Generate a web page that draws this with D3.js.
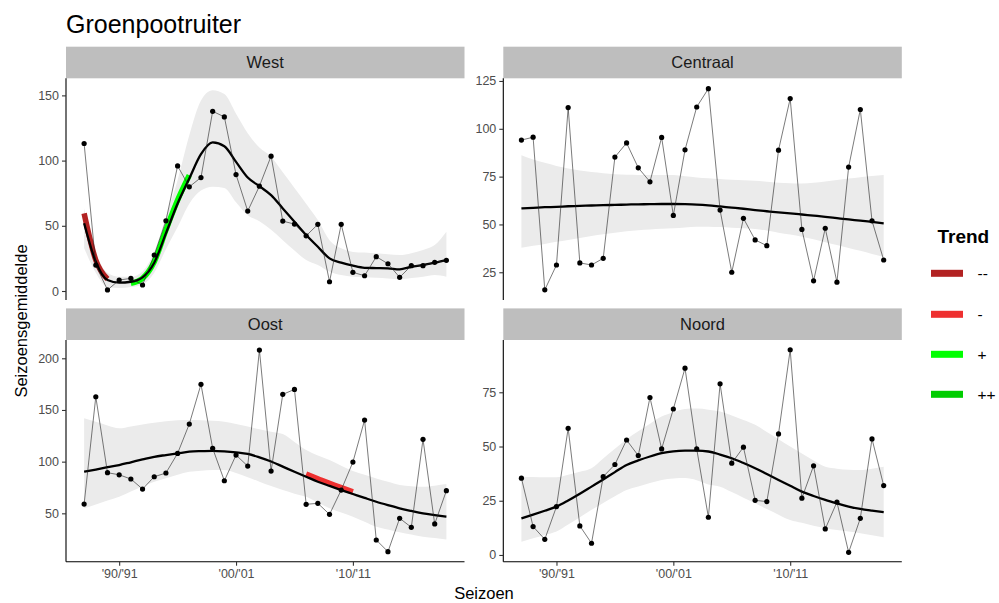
<!DOCTYPE html>
<html><head><meta charset="utf-8">
<script src="https://cdn.jsdelivr.net/npm/d3@7"></script>
<style>body{margin:0;background:#fff}svg{display:block;font-family:"Liberation Sans",Arial,sans-serif}</style>
</head><body><svg id="c" width="999" height="603"></svg>
<script>
const years = [1987,1988,1989,1990,1991,1992,1993,1994,1995,1996,1997,1998,1999,2000,2001,2002,2003,2004,2005,2006,2007,2008,2009,2010,2011,2012,2013,2014,2015,2016,2017,2018];
const xTickYears = [1990,2000,2010];
const xTickLabels = ["'90/'91","'00/'01","'10/'11"];
const regions = ["West","Centraal","Oost","Noord"];

const westValues = [113.1,19.9,0.8,8.4,9.7,4.6,27.6,53.8,95.9,79.9,87,137.8,133.5,89.3,61.3,80.4,103.4,53.6,51.3,42.3,51.1,7.1,51.1,14.3,11.7,26.3,20.9,10.5,19.4,19.4,22,23.5];
const westSmooth = [52,22.4,8.4,6.4,7.1,10.5,21.7,44.2,67.1,86.3,104.9,113.9,111,99,87,80.4,73.5,63.3,53.1,42.9,33.9,25,21.7,19.4,17.8,17.6,17.4,16.6,18.6,19.9,21.7,23.7];
const westUpper = [63.5,29,14,11,11,15,30,57,85,119.4,146,154,151,136,121,110,103,91,79,67,54.4,39,32.7,30,29.5,28.9,28.2,27.6,29,31.4,35.2,45.4];
const westLower = [33,14,3,2.3,3,5,14,32,49,67,77,80,79,68,58,53.5,47,39,31,23.7,19.9,14.8,12.3,11,10.6,10.2,9.6,9,10,11,12.3,11];

const centraalValues = [94.1,95.6,15.8,28.8,111.1,29.9,28.8,32.3,85.2,92.6,79.6,72.3,95.5,54.7,89,111.4,121,57.5,25,53.2,41.9,38.9,88.8,115.8,47.4,20.5,48,19.8,80,110.1,51.9,31.4];
const centraalSmooth = [58.4,58.7,59,59.2,59.5,59.7,59.9,60.1,60.2,60.4,60.5,60.6,60.7,60.7,60.6,60.4,60,59.4,58.8,58.2,57.5,56.9,56.3,55.8,55.2,54.6,54,53.3,52.6,52,51.3,50.6];
const centraalUpper = [86.2,84,82.2,80.6,79.3,78.2,77.4,76.8,76.3,76,75.9,75.8,75.8,75.8,75.2,74.6,74.2,73.8,73.4,73.1,72.8,72.3,71.8,71.5,71.4,71.8,72.5,73.2,74,74.7,75.3,75.8];
const centraalLower = [37.8,38.8,39.8,40.9,41.9,42.9,44,44.9,45.7,46.4,47,47.4,47.8,48,48.4,48.8,48.8,48.6,48.3,48,47.6,46.8,45.7,44.7,43.6,42.2,40.7,39.2,37.7,36.2,34.6,33.1];

const oostValues = [59,162.8,89.3,87.3,83.2,73.5,85.4,89,108,136.4,174.8,112.9,81.5,106.4,95.7,208,90.9,165.1,169.9,58.7,59.7,49,72.5,99.6,140.2,24.2,12.9,45.2,36.5,121.6,39.7,71.9];
const oostSmooth = [90.3,92.4,94.6,96.7,99.4,102.1,104.7,106.4,108,109.6,110.2,110.5,110,109,107.5,104.2,100.2,95.2,90.2,85.4,80.6,76.5,72.5,68.7,64.9,61.2,57.9,54.8,52.3,50,48.3,46.7];
const oostUpper = [141.9,138.5,135,132.2,134,136,137.6,139,140,140.2,140,139.5,138.6,136.5,134,131.3,129,126.7,119,111.2,106,101.5,96,90.9,87.3,83.8,80.5,77.4,76.3,75.7,76.8,78.3];
const oostLower = [54.8,58.5,62.3,66,71,76,80.6,84,87.3,90.2,91.3,91.9,91.9,89,85,80.6,76.5,72.5,69,66,60.5,54.8,50.7,46.7,41.9,37,34.3,31.6,29.5,27.4,26.1,24.8];

const noordValues = [35.4,13.1,7.2,22.3,58.4,13.4,5.4,36.1,41.7,53,45.8,72.6,48.9,67.3,86.1,48.9,17.4,78.9,42.3,49.7,25.2,24.6,55.8,94.6,26.2,41.1,12,24.4,1.2,16.9,53.5,32];
const noordSmooth = [16.9,18.6,20.4,22.3,25.1,28.2,31.5,34.8,38.2,41.5,43.6,45.4,46.9,47.8,48.1,48.1,47.7,46.3,44.6,42.4,40,37.3,34.6,31.9,29.2,27.2,25.4,23.8,22.3,21.2,20.4,19.7];
const noordUpper = [36.1,35.9,35.8,35.8,37,38.4,40,44.5,49,53.4,57,60.5,63.8,65.8,67.3,67.5,67,66.1,64.3,62.2,60,56.7,53.4,50,46.8,43.6,40.7,39.8,39.3,39.2,39.8,40.7];
const noordLower = [6.1,7.7,9.2,10.8,14,17.4,20.8,24,27.1,30,31.6,33.2,34.6,35.3,35.5,34.5,32.5,31.5,29,26.4,23.8,21.2,18.6,16.1,14.8,13.5,12.3,11.5,10.8,10,9.1,8.2];

// trend segments: region, class, years, values
const trendRegion = ["West","West","Oost"];
const trendClass = ["--","+","-"];
const trendYears = [[1987,1988,1989],[1991,1992,1993,1994,1995,1996],[2006,2007,2008,2009,2010]];
const trendValues = [[59.5,23.7,9.2],[5.9,9.7,22.4,46.7,69.7,88.8],[88,83.5,79,74.8,70.8]];

const legendLabels = ["--","-","+","++"];
const legendColors = ["#B22222","#EE3030","#00FF00","#00CD00"];

const yDomains = [[-6.9,163.1],[10.5,126.4],[3.2,217.7],[-3.1,99.1]];
const yTicks = [[0,50,100,150],[25,50,75,100,125],[50,100,150,200],[0,25,50,75]];

const seriesValues = [westValues,centraalValues,oostValues,noordValues];
const seriesSmooth = [westSmooth,centraalSmooth,oostSmooth,noordSmooth];
const seriesUpper = [westUpper,centraalUpper,oostUpper,noordUpper];
const seriesLower = [westLower,centraalLower,oostLower,noordLower];

// layout
const svg = d3.select("#c");
const panelW = 398.5, panelH = 221.7, stripH = 31.6;
const panelX = [66, 503.3, 66, 503.3];
const panelY = [78.3, 78.3, 340, 340];
const colorOf = d3.scaleOrdinal().domain(legendLabels).range(legendColors);

svg.append("text").attr("x",66).attr("y",33).attr("font-size",25).attr("fill","#000").text("Groenpootruiter");

regions.forEach((reg,i)=>{
  const x0 = panelX[i], y0 = panelY[i];
  const ext = d3.extent(years); const pad = (ext[1]-ext[0])*0.05;
  const x = d3.scaleLinear().domain([ext[0]-pad, ext[1]+pad]).range([x0, x0+panelW]);
  const y = d3.scaleLinear().domain(yDomains[i]).range([y0+panelH, y0]);
  const g = svg.append("g");
  // strip
  g.append("rect").attr("x",x0).attr("y",y0-stripH).attr("width",panelW).attr("height",stripH).attr("fill","#BEBEBE");
  g.append("text").attr("x",x0+panelW/2).attr("y",y0-stripH/2).attr("dy","0.36em").attr("text-anchor","middle")
    .attr("font-size",16.5).attr("fill","#1A1A1A").text(reg);
  const vals = seriesValues[i], sm = seriesSmooth[i], up = seriesUpper[i], lo = seriesLower[i];
  const idx = d3.range(years.length);
  // ribbon
  g.append("path").datum(idx).attr("fill","#EBEBEB")
    .attr("d", d3.area().x(k=>x(years[k])).y0(k=>y(lo[k])).y1(k=>y(up[k])).curve(d3.curveMonotoneX));
  // trend segments
  trendRegion.forEach((tr,t)=>{
    if(tr!==reg) return;
    const ty = trendYears[t], tv = trendValues[t];
    g.append("path").datum(d3.range(ty.length)).attr("fill","none").attr("stroke",colorOf(trendClass[t]))
      .attr("stroke-width",5.5)
      .attr("d", d3.line().x(k=>x(ty[k])).y(k=>y(tv[k])).curve(d3.curveMonotoneX));
  });
  // smooth
  g.append("path").datum(idx).attr("fill","none").attr("stroke","#000").attr("stroke-width",2.3)
    .attr("d", d3.line().x(k=>x(years[k])).y(k=>y(sm[k])).curve(d3.curveMonotoneX));
  // data line
  g.append("path").datum(idx).attr("fill","none").attr("stroke","#222").attr("stroke-width",0.6)
    .attr("d", d3.line().x(k=>x(years[k])).y(k=>y(vals[k])));
  g.selectAll("circle.p").data(idx).join("circle").attr("cx",k=>x(years[k])).attr("cy",k=>y(vals[k]))
    .attr("r",2.6).attr("fill","#000");
  // y axis
  const ya = g.append("g").attr("transform",`translate(${x0},0)`)
    .call(d3.axisLeft(y).tickValues(yTicks[i]).tickSize(4).tickPadding(3));
  ya.select(".domain").attr("stroke","#000").attr("stroke-width",1.1).attr("d",`M0,${y0}V${y0+panelH}`);
  ya.selectAll(".tick line").attr("stroke","#333").attr("stroke-width",1.1);
  ya.selectAll(".tick text").attr("font-size",12.5).attr("fill","#4D4D4D").attr("font-family","Liberation Sans, Arial, sans-serif");
  if(i>=2){
    const xa = g.append("g").attr("transform",`translate(0,${y0+panelH})`)
      .call(d3.axisBottom(x).tickValues(xTickYears).tickFormat((d,j)=>xTickLabels[j]).tickSize(4).tickPadding(3));
    xa.select(".domain").attr("stroke","#000").attr("stroke-width",1.1).attr("d",`M${x0},0H${x0+panelW}`);
    xa.selectAll(".tick line").attr("stroke","#333").attr("stroke-width",1.1);
    xa.selectAll(".tick text").attr("font-size",12.5).attr("fill","#4D4D4D").attr("font-family","Liberation Sans, Arial, sans-serif");
  }
});

// axis titles
svg.append("text").attr("x",484).attr("y",599).attr("text-anchor","middle").attr("font-size",16.5).text("Seizoen");
svg.append("text").attr("transform","translate(27,321) rotate(-90)").attr("text-anchor","middle").attr("font-size",16.5).text("Seizoensgemiddelde");

// legend
const lg = svg.append("g");
lg.append("text").attr("x",937.5).attr("y",243).attr("font-size",19).attr("font-weight","bold").text("Trend");
const keyY = [273.3,314.3,354.3,394.3];
legendLabels.forEach((l,j)=>{
  lg.append("rect").attr("x",931).attr("y",keyY[j]-3.5).attr("width",32).attr("height",7).attr("fill",legendColors[j]);
  lg.append("text").attr("x",977.5).attr("y",keyY[j]).attr("dy","0.36em").attr("font-size",15.5).text(l);
});
</script></body></html>
